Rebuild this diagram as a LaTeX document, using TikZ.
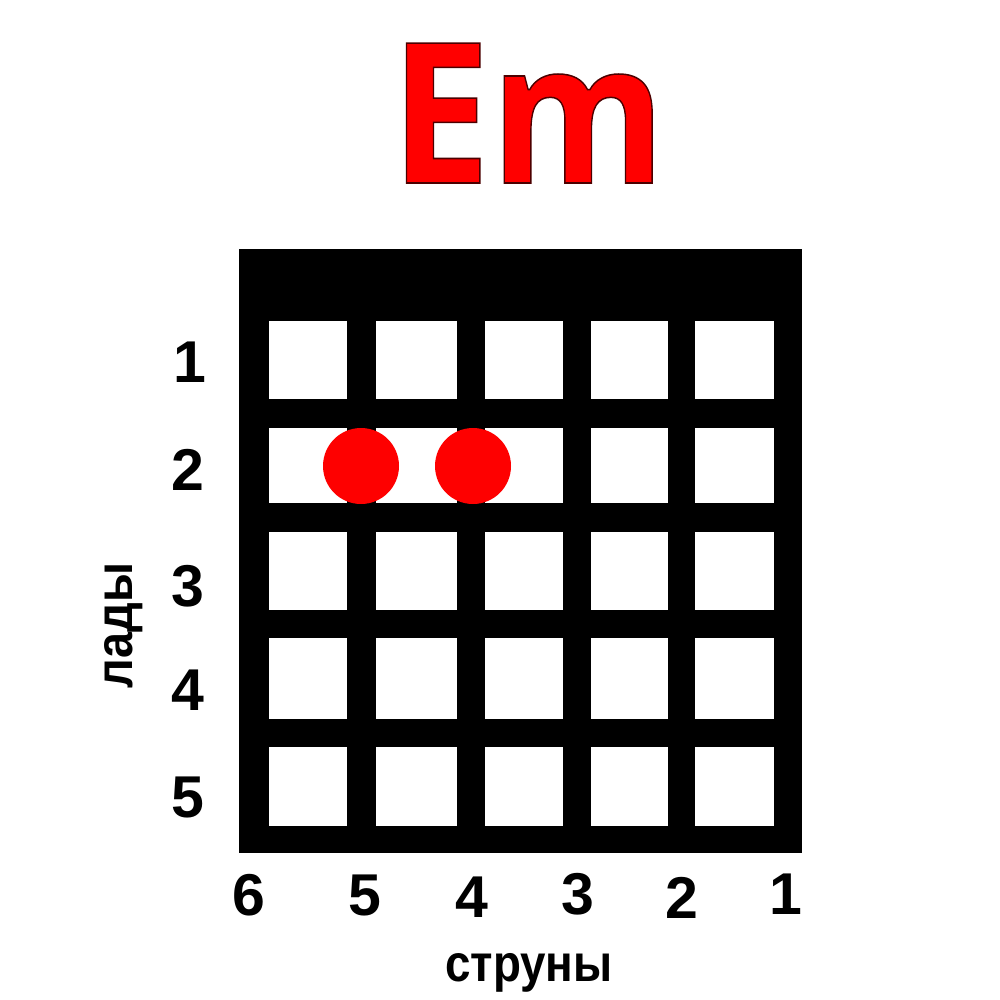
\documentclass[tikz,border=0pt]{standalone}
\usepackage{fontspec}
\setmainfont{Liberation Sans}
\newfontfamily\titlefont{Open Sans}
\definecolor{emred}{RGB}{255,0,0}
\definecolor{dotred}{RGB}{254,0,0}
\tikzset{
  lab/.style={inner sep=0pt, font=\bfseries\fontsize{59}{60}\selectfont},
  axis/.style={inner sep=0pt, font=\bfseries\fontsize{52}{54}\selectfont},
  cell/.style={fill=white},
  fing/.style={fill=dotred}
}
\begin{document}
\begin{tikzpicture}[x=1pt,y=-1pt]
\useasboundingbox (0,0) rectangle (1000,1000);
\fill[white] (0,0) rectangle (1000,1000);
% title
\node[anchor=base, inner sep=0pt, xscale=0.91] (title) at (528,183)
  {\titlefont\bfseries\fontsize{196}{200}\selectfont\color{emred}\special{pdf:literal q 2 Tr 1.5 w 0.3 0 0 RG}Em\special{pdf:literal Q}};
% fretboard
\fill[black] (239,249) rectangle (802,853);
\foreach \xa/\xb in {269/347,376/457,485/563,591/668,695/774}
  \foreach \ya/\yb in {321/399,428/503,532/610,638/719,747/826}
    \fill[cell] (\xa,\ya) rectangle (\xb,\yb);
% fingers
\fill[fing] (361,466) circle[radius=38pt];
\fill[fing] (473,466) circle[radius=38pt];
% fret numbers
\node[lab] (f1) at (190,362) {1};
\node[lab] (f2) at (188,470) {2};
\node[lab] (f3) at (188,586) {3};
\node[lab] (f4) at (188,690) {4};
\node[lab] (f5) at (188,797) {5};
\node[axis, anchor=base, rotate=90, xscale=0.9] (frets) at (132,625.5) {лады};
% string numbers
\node[lab] (s6) at (248.5,895) {6};
\node[lab] (s5) at (365,895) {5};
\node[lab] (s4) at (471.5,897) {4};
\node[lab] (s3) at (577.5,894) {3};
\node[lab] (s2) at (682,898) {2};
\node[lab] (s1) at (785.5,894) {1};
\node[axis, anchor=base, xscale=0.88] (strings) at (529,981) {струны};
\end{tikzpicture}
\end{document}
